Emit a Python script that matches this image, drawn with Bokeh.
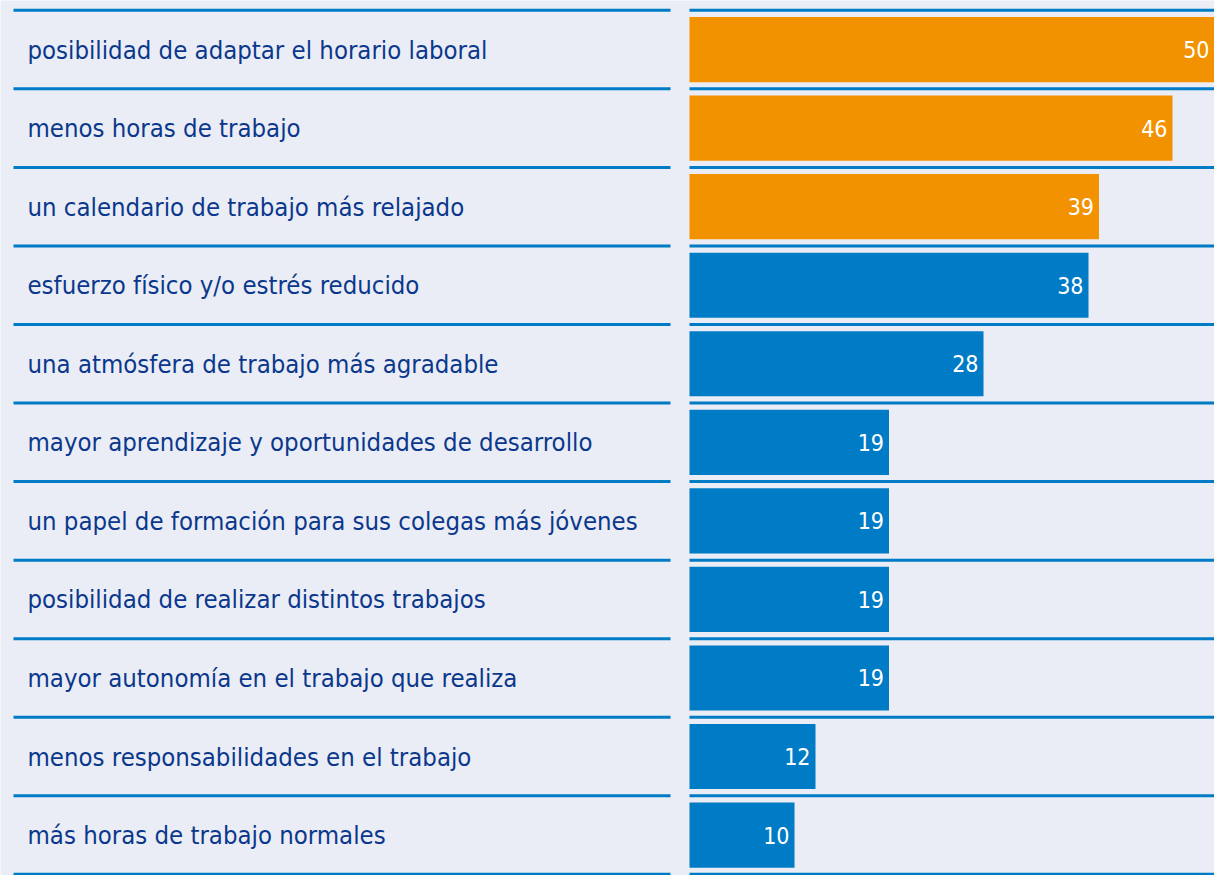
from bokeh.plotting import figure
from bokeh.models import Range1d, ColumnDataSource
from bokeh.core.properties import value
from bokeh.embed import file_html
from bokeh.resources import INLINE

# ---- data ----
categories = [
    "posibilidad de adaptar el horario laboral",
    "menos horas de trabajo",
    "un calendario de trabajo más relajado",
    "esfuerzo físico y/o estrés reducido",
    "una atmósfera de trabajo más agradable",
    "mayor aprendizaje y oportunidades de desarrollo",
    "un papel de formación para sus colegas más jóvenes",
    "posibilidad de realizar distintos trabajos",
    "mayor autonomía en el trabajo que realiza",
    "menos responsabilidades en el trabajo",
    "más horas de trabajo normales",
]
values = [50, 46, 39, 38, 28, 19, 19, 19, 19, 12, 10]
value_labels = ["50", "46", "39", "38", "28", "19", "19", "19", "19", "12", "10"]

# ---- layout / style ----
W, H = 1214, 875
TOP_PX = 9.8        # first separator line (figure px)
ROW_PX = 78.55      # row spacing
BAR_X0_PX = 689     # where bars start
LEFT_LINE = (13, 670)
LABEL_PX = 27
N_HIGHLIGHT = 3

BG = "#eaedf5"
BLUE = "#007bc6"
ORANGE = "#f39200"
TEXT = "#0b388c"
FONT = "DejaVu Sans Condensed, DejaVu Sans, sans-serif"

n = len(categories)
xmax = max(values)
ppu = (W - BAR_X0_PX) / xmax
x_start = -BAR_X0_PX / ppu
x_end = xmax

def px_to_x(px):
    return (px - BAR_X0_PX) / ppu

y_bottom = (H - TOP_PX) / ROW_PX
y_top = -TOP_PX / ROW_PX

p = figure(width=W, height=H, output_backend="svg", toolbar_location=None,
           x_range=Range1d(x_start, x_end), y_range=Range1d(y_bottom, y_top),
           x_axis_type=None, y_axis_type=None, min_border=0,
           min_border_left=0, min_border_right=0, min_border_top=0, min_border_bottom=0)
p.background_fill_color = BG
p.border_fill_color = BG
p.outline_line_color = None
p.grid.visible = False

centers = [i + 0.5 for i in range(n)]
colors = [ORANGE if i < N_HIGHLIGHT else BLUE for i in range(n)]

src = ColumnDataSource(dict(y=centers, v=values, lab=value_labels, cat=categories, color=colors))

# separator lines
bounds = list(range(n + 1))
p.segment(x0=[px_to_x(LEFT_LINE[0])] * len(bounds), x1=[px_to_x(LEFT_LINE[1])] * len(bounds),
          y0=bounds, y1=bounds, line_color=BLUE, line_width=3)
p.segment(x0=[0] * len(bounds), x1=[x_end] * len(bounds),
          y0=bounds, y1=bounds, line_color=BLUE, line_width=3)

# bars
p.hbar(y="y", left=0, right="v", height=0.83, fill_color="color", line_color=None, source=src)

# category labels
p.text(x=px_to_x(LABEL_PX), y="y", text="cat", source=src, text_color=TEXT,
       text_font=value(FONT), text_font_size="25.5px", text_align="left", text_baseline="middle")

# value labels
p.text(x="v", y="y", text="lab", source=src, text_color="white", x_offset=-5,
       text_font=value(FONT), text_font_size="23px", text_align="right", text_baseline="middle")

open("out.html", "w").write(file_html(p, INLINE))
